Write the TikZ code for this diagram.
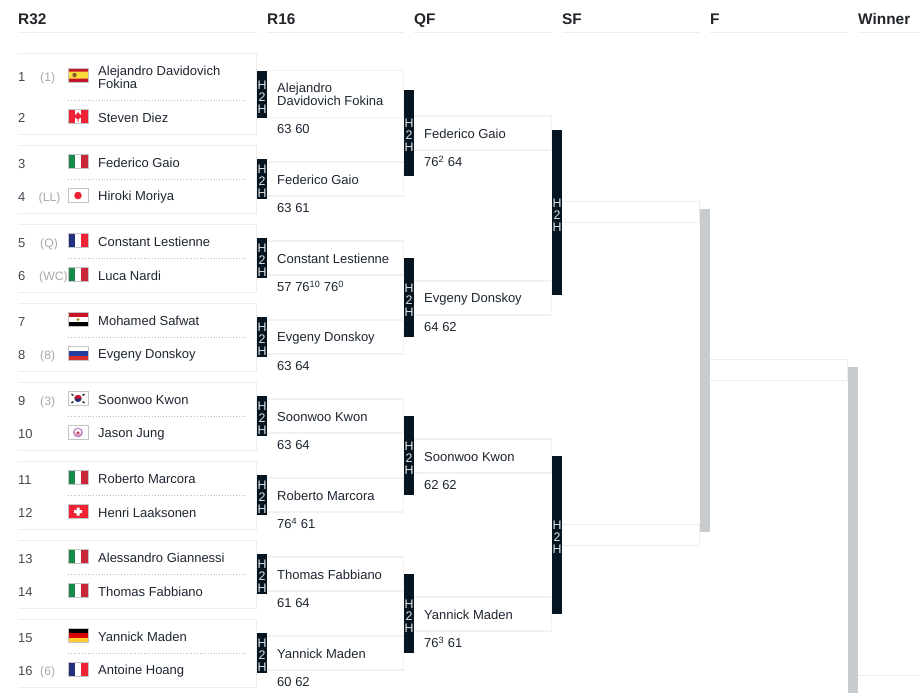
\documentclass[tikz,border=0pt]{standalone}
\usepackage{fontspec}
\setmainfont{Liberation Sans}
\usetikzlibrary{positioning}
\definecolor{clrRule}{HTML}{ECEDEE}
\definecolor{clrBoxLine}{HTML}{F2F2F3}
\definecolor{clrBar}{HTML}{051622}
\definecolor{clrBye}{HTML}{C9CCCF}
\definecolor{clrName}{HTML}{1D2530}
\definecolor{clrHead}{HTML}{222529}
\definecolor{clrNum}{HTML}{444A50}
\definecolor{clrSeed}{HTML}{A4A8AC}
\definecolor{clrDots}{HTML}{B8BABC}
\definecolor{clrEdge}{HTML}{C4C4C4}
\definecolor{clrGreen}{HTML}{178A48}
\definecolor{clrItaRed}{HTML}{C8283A}
\definecolor{clrBlue}{HTML}{25307C}
\definecolor{clrRed}{HTML}{EE2436}
\definecolor{clrGold}{HTML}{FFCC33}
\definecolor{clrEspY}{HTML}{F9DC3C}
\definecolor{clrEspR}{HTML}{C8142A}
\definecolor{clrRusB}{HTML}{2240A0}
\definecolor{clrRusR}{HTML}{D6302A}
\tikzset{
    pics/vflag/.style n args={3}{code={
        \fill[#1] (0,0) rectangle (6.67,14);
        \fill[#2] (6.67,0) rectangle (13.33,14);
        \fill[#3] (13.33,0) rectangle (20,14);
        \draw[clrEdge, line width=1pt] (0,0) rectangle (20,14);
    }},
    pics/hflag/.style n args={3}{code={
        \fill[#1] (0,0) rectangle (20,4.67);
        \fill[#2] (0,4.67) rectangle (20,9.33);
        \fill[#3] (0,9.33) rectangle (20,14);
        \draw[clrEdge, line width=1pt] (0,0) rectangle (20,14);
    }},
    pics/flagita/.style={code={\pic {vflag={clrGreen}{white}{clrItaRed}};}},
    pics/flagfra/.style={code={\pic {vflag={clrBlue}{white}{clrRed}};}},
    pics/flagger/.style={code={\pic {hflag={black}{red!85!black}{clrGold}};}},
    pics/flagrus/.style={code={\pic {hflag={white}{clrRusB}{clrRusR}};}},
    pics/flagegy/.style={code={
        \pic {hflag={clrEspR}{white}{black}};
        \fill[clrGold!70!black] (10,7) circle (1.6);
    }},
    pics/flagesp/.style={code={
        \fill[clrEspY] (0,0) rectangle (20,14);
        \fill[clrEspR] (0,0) rectangle (20,3.5) (0,10.5) rectangle (20,14);
        \fill[brown!70!black] (6.5,7) circle (2.2);
        \draw[clrEdge, line width=1pt] (0,0) rectangle (20,14);
    }},
    pics/flagcan/.style={code={
        \pic {vflag={clrRed}{white}{clrRed}};
        \fill[clrRed] (10,2.5) -- (12,5) -- (14,5) -- (13,8) -- (10.5,9.5) -- (10.5,12) -- (9.5,12) -- (9.5,9.5) -- (7,8) -- (6,5) -- (8,5) -- cycle;
    }},
    pics/flagjpn/.style={code={
        \fill[white] (0,0) rectangle (20,14);
        \fill[clrRed] (10,7) circle (3.8);
        \draw[clrEdge, line width=1pt] (0,0) rectangle (20,14);
    }},
    pics/flagsui/.style={code={
        \fill[clrRed] (0,0) rectangle (20,14);
        \fill[white] (8.5,3) rectangle (11.5,11) (6,5.5) rectangle (14,8.5);
        \draw[clrEdge, line width=1pt] (0,0) rectangle (20,14);
    }},
    pics/flagkor/.style={code={
        \fill[white] (0,0) rectangle (20,14);
        \fill[clrBlue] (10,7) circle (3.6);
        \fill[clrEspR] (6.4,7) arc[start angle=180, end angle=360, radius=3.6] -- cycle;
        \draw[black!80, line width=1.4pt] (3.5,2.5) -- (5.5,4) (16.5,2.5) -- (14.5,4) (3.5,11.5) -- (5.5,10) (16.5,11.5) -- (14.5,10);
        \draw[clrEdge, line width=1pt] (0,0) rectangle (20,14);
    }},
    pics/flagtpe/.style={code={
        \fill[white] (0,0) rectangle (20,14);
        \fill[violet!45] (10,7) circle (5);
        \fill[white] (10,6.5) circle (3);
        \fill[clrEspR!80] (10,7.5) circle (1.8);
        \draw[clrEdge, line width=1pt] (0,0) rectangle (20,14);
    }},
}

\begin{document}
\begin{tikzpicture}[
    x=1pt, y=-1pt,
    edgeline/.style={draw=clrRule, line width=1pt, line cap=square},
    winline/.style={draw=clrBoxLine, line width=1.6pt, line cap=square},
    openbox/.style={inner sep=0pt, outer sep=0pt, anchor=north west,
        append after command={
            (\tikzlastnode.north west) edge[#1] (\tikzlastnode.north east)
            (\tikzlastnode.north east) edge[#1] (\tikzlastnode.south east)
            (\tikzlastnode.south east) edge[#1] (\tikzlastnode.south west)}},
    drawbox/.style={openbox=edgeline, minimum width=238.5pt, minimum height=68pt},
    winbox/.style={openbox=winline, minimum width=136.5pt, minimum height=34pt},
    thinbox/.style={openbox=edgeline, minimum width=137.5pt, minimum height=21pt},
    header/.style={anchor=west, inner sep=0pt, font=\fontsize{15.4}{17}\selectfont\bfseries, text=clrHead, text height=11pt, text depth=0pt},
    hrule/.style={draw=clrRule, line width=1pt},
    divider/.style={draw=clrDots, line width=0.8pt, dotted},
    nm/.style={anchor=west, inner sep=0pt, align=left, font=\fontsize{13}{13}\selectfont, text=clrName, text height=9pt},
    score/.style={nm},
    no/.style={anchor=west, inner sep=0pt, font=\fontsize{13}{13}\selectfont, text=clrNum, text height=9pt, text depth=0pt},
    sd/.style={anchor=west, inner sep=0pt, font=\fontsize{12.2}{13}\selectfont, text=clrSeed, text height=9pt, text depth=0pt},
    hhbar/.style={anchor=north west, inner sep=0pt, outer sep=0pt, fill=clrBar, minimum width=10pt,
        label={[align=center, inner sep=0pt, yshift=-2.5pt, font=\fontsize{12.4}{12}\selectfont, text=white!90!black]center:{H\\2\\H}}},
    byebar/.style={anchor=north west, inner sep=0pt, outer sep=0pt, fill=clrBye, minimum width=10pt},
]
\useasboundingbox (0,0) rectangle (920,693);

% === Headers ===
\node[header] (hd1) at (18,19) {R32};
\node[header] (hd2) at (267,19) {R16};
\node[header] (hd3) at (414,19) {QF};
\node[header] (hd4) at (562,19) {SF};
\node[header] (hd5) at (710,19) {F};
\node[header] (hd6) at (858,19) {Winner};
\draw[hrule] (18,32.5) -- (257,32.5);
\draw[hrule] (267,32.5) -- (404,32.5);
\draw[hrule] (414,32.5) -- (552,32.5);
\draw[hrule] (562,32.5) -- (700,32.5);
\draw[hrule] (710,32.5) -- (848,32.5);
\draw[hrule] (858,32.5) -- (920,32.5);

% === R32 boxes ===
\node[drawbox, minimum height=81pt] (dra) at (18,53.5) {};
\node[drawbox] (drb) at (18,145.5) {};
\node[drawbox] (drc) at (18,224.5) {};
\node[drawbox] (drd) at (18,303.5) {};
\node[drawbox] (dre) at (18,382.5) {};
\node[drawbox] (drf) at (18,461.5) {};
\node[drawbox] (drg) at (18,540.5) {};
\node[drawbox] (drh) at (18,619.5) {};
\draw[divider] (68,100.5) -- (246,100.5);
\draw[divider] (68,179.5) -- (246,179.5);
\draw[divider] (68,258.5) -- (246,258.5);
\draw[divider] (68,337.5) -- (246,337.5);
\draw[divider] (68,416.5) -- (246,416.5);
\draw[divider] (68,495.5) -- (246,495.5);
\draw[divider] (68,574.5) -- (246,574.5);
\draw[divider] (68,653.5) -- (246,653.5);

% === Draw numbers ===
\node[no] (no1) at (18,77) {1};
\node[no] (no2) at (18,117.5) {2};
\node[no] (no3) at (18,163.5) {3};
\node[no] (no4) at (18,196.5) {4};
\node[no] (no5) at (18,242.5) {5};
\node[no] (no6) at (18,275.5) {6};
\node[no] (no7) at (18,321.5) {7};
\node[no] (no8) at (18,354.5) {8};
\node[no] (no9) at (18,400.5) {9};
\node[no] (no10) at (18,433.5) {10};
\node[no] (no11) at (18,479.5) {11};
\node[no] (no12) at (18,512.5) {12};
\node[no] (no13) at (18,558.5) {13};
\node[no] (no14) at (18,591.5) {14};
\node[no] (no15) at (18,637.5) {15};
\node[no] (no16) at (18,670.5) {16};

% === Seeds ===
\node[sd] (sd1) at (40,77) {(1)};
\node[sd] (sd4) at (38.5,196.5) {(LL)};
\node[sd] (sd5) at (40,242.5) {(Q)};
\node[sd] (sd6) at (39,275.5) {(WC)};
\node[sd] (sd8) at (40,354.5) {(8)};
\node[sd] (sd9) at (40,400.5) {(3)};
\node[sd] (sd16) at (40,670.5) {(6)};

% === Flags ===
\pic at (68,68) {flagesp};
\pic at (68,109.5) {flagcan};
\pic at (68,154.5) {flagita};
\pic at (68,188.5) {flagjpn};
\pic at (68,233.5) {flagfra};
\pic at (68,267.5) {flagita};
\pic at (68,312.5) {flagegy};
\pic at (68,346.5) {flagrus};
\pic at (68,391.5) {flagkor};
\pic at (68,425.5) {flagtpe};
\pic at (68,470.5) {flagita};
\pic at (68,504.5) {flagsui};
\pic at (68,549.5) {flagita};
\pic at (68,583.5) {flagita};
\pic at (68,628.5) {flagger};
\pic at (68,662.5) {flagfra};

% === Draw names ===
\node[nm] (nm1) at (98,84.5) {Alejandro Davidovich\\Fokina};
\node[nm] (nm2) at (98,118.5) {Steven Diez};
\node[nm] (nm3) at (98,163.5) {Federico Gaio};
\node[nm] (nm4) at (98,197.5) {Hiroki Moriya};
\node[nm] (nm5) at (98,242.5) {Constant Lestienne};
\node[nm] (nm6) at (98,276.5) {Luca Nardi};
\node[nm] (nm7) at (98,321.5) {Mohamed Safwat};
\node[nm] (nm8) at (98,355.5) {Evgeny Donskoy};
\node[nm] (nm9) at (98,400.5) {Soonwoo Kwon};
\node[nm] (nm10) at (98,434.5) {Jason Jung};
\node[nm] (nm11) at (98,479.5) {Roberto Marcora};
\node[nm] (nm12) at (98,513.5) {Henri Laaksonen};
\node[nm] (nm13) at (98,558.5) {Alessandro Giannessi};
\node[nm] (nm14) at (98,592.5) {Thomas Fabbiano};
\node[nm] (nm15) at (98,637.5) {Yannick Maden};
\node[nm] (nm16) at (98,671.5) {Antoine Hoang};

% === R16 ===
\node[winbox, minimum height=47pt] (roa) at (267,70.5) {};
\node[winbox] (rob) at (267,162) {};
\node[winbox] (roc) at (267,241) {};
\node[winbox] (rod) at (267,320) {};
\node[winbox] (roe) at (267,399) {};
\node[winbox] (rof) at (267,478) {};
\node[winbox] (rog) at (267,557) {};
\node[winbox] (roh) at (267,636) {};
\node[nm] (rn1) at (277,101.5) {Alejandro\\Davidovich Fokina};
\node[nm] (rn2) at (277,180) {Federico Gaio};
\node[nm] (rn3) at (277,259) {Constant Lestienne};
\node[nm] (rn4) at (277,338) {Evgeny Donskoy};
\node[nm] (rn5) at (277,417) {Soonwoo Kwon};
\node[nm] (rn6) at (277,496) {Roberto Marcora};
\node[nm] (rn7) at (277,575) {Thomas Fabbiano};
\node[nm] (rn8) at (277,654) {Yannick Maden};
\node[score] (rs1) at (277,129) {63 60};
\node[score] (rs2) at (277,208) {63 61};
\node[score] (rs3) at (277,287) {57 76\textsuperscript{10} 76\textsuperscript{0}};
\node[score] (rs4) at (277,366) {63 64};
\node[score] (rs5) at (277,445) {63 64};
\node[score] (rs6) at (277,524) {76\textsuperscript{4} 61};
\node[score] (rs7) at (277,603) {61 64};
\node[score] (rs8) at (277,682) {60 62};

% === QF ===
\node[winbox, minimum width=137.5pt] (qfa) at (414,116) {};
\node[winbox, minimum width=137.5pt] (qfb) at (414,281) {};
\node[winbox, minimum width=137.5pt] (qfc) at (414,439) {};
\node[winbox, minimum width=137.5pt] (qfd) at (414,597) {};
\node[nm] (qn1) at (424,134) {Federico Gaio};
\node[nm] (qn2) at (424,299) {Evgeny Donskoy};
\node[nm] (qn3) at (424,457) {Soonwoo Kwon};
\node[nm] (qn4) at (424,615) {Yannick Maden};
\node[score] (qs1) at (424,162) {76\textsuperscript{2} 64};
\node[score] (qs2) at (424,327) {64 62};
\node[score] (qs3) at (424,485) {62 62};
\node[score] (qs4) at (424,643) {76\textsuperscript{3} 61};

% === SF, F, Winner ===
\node[thinbox] (sfa) at (562,201.5) {};
\node[thinbox] (sfb) at (562,524.5) {};
\node[thinbox] (fin) at (710,359.5) {};
\draw[hrule] (858,675.5) -- (920,675.5);

% === H2H bars ===
\node[hhbar, minimum height=47pt] (hha) at (257,71) {};
\node[hhbar, minimum height=40pt] (hhb) at (257,159) {};
\node[hhbar, minimum height=40pt] (hhc) at (257,238) {};
\node[hhbar, minimum height=40pt] (hhd) at (257,317) {};
\node[hhbar, minimum height=40pt] (hhe) at (257,396) {};
\node[hhbar, minimum height=40pt] (hhf) at (257,475) {};
\node[hhbar, minimum height=40pt] (hhg) at (257,554) {};
\node[hhbar, minimum height=40pt] (hhh) at (257,633) {};
\node[hhbar, minimum height=86pt] (hqa) at (404,90) {};
\node[hhbar, minimum height=79pt] (hqb) at (404,258) {};
\node[hhbar, minimum height=79pt] (hqc) at (404,416) {};
\node[hhbar, minimum height=79pt] (hqd) at (404,574) {};
\node[hhbar, minimum height=165pt] (hsa) at (552,130) {};
\node[hhbar, minimum height=158pt] (hsb) at (552,456) {};

% === Grey bars ===
\node[byebar, minimum height=323pt] (bya) at (700,209) {};
\node[byebar, minimum height=326pt] (byb) at (848,367) {};

\end{tikzpicture}
\end{document}
